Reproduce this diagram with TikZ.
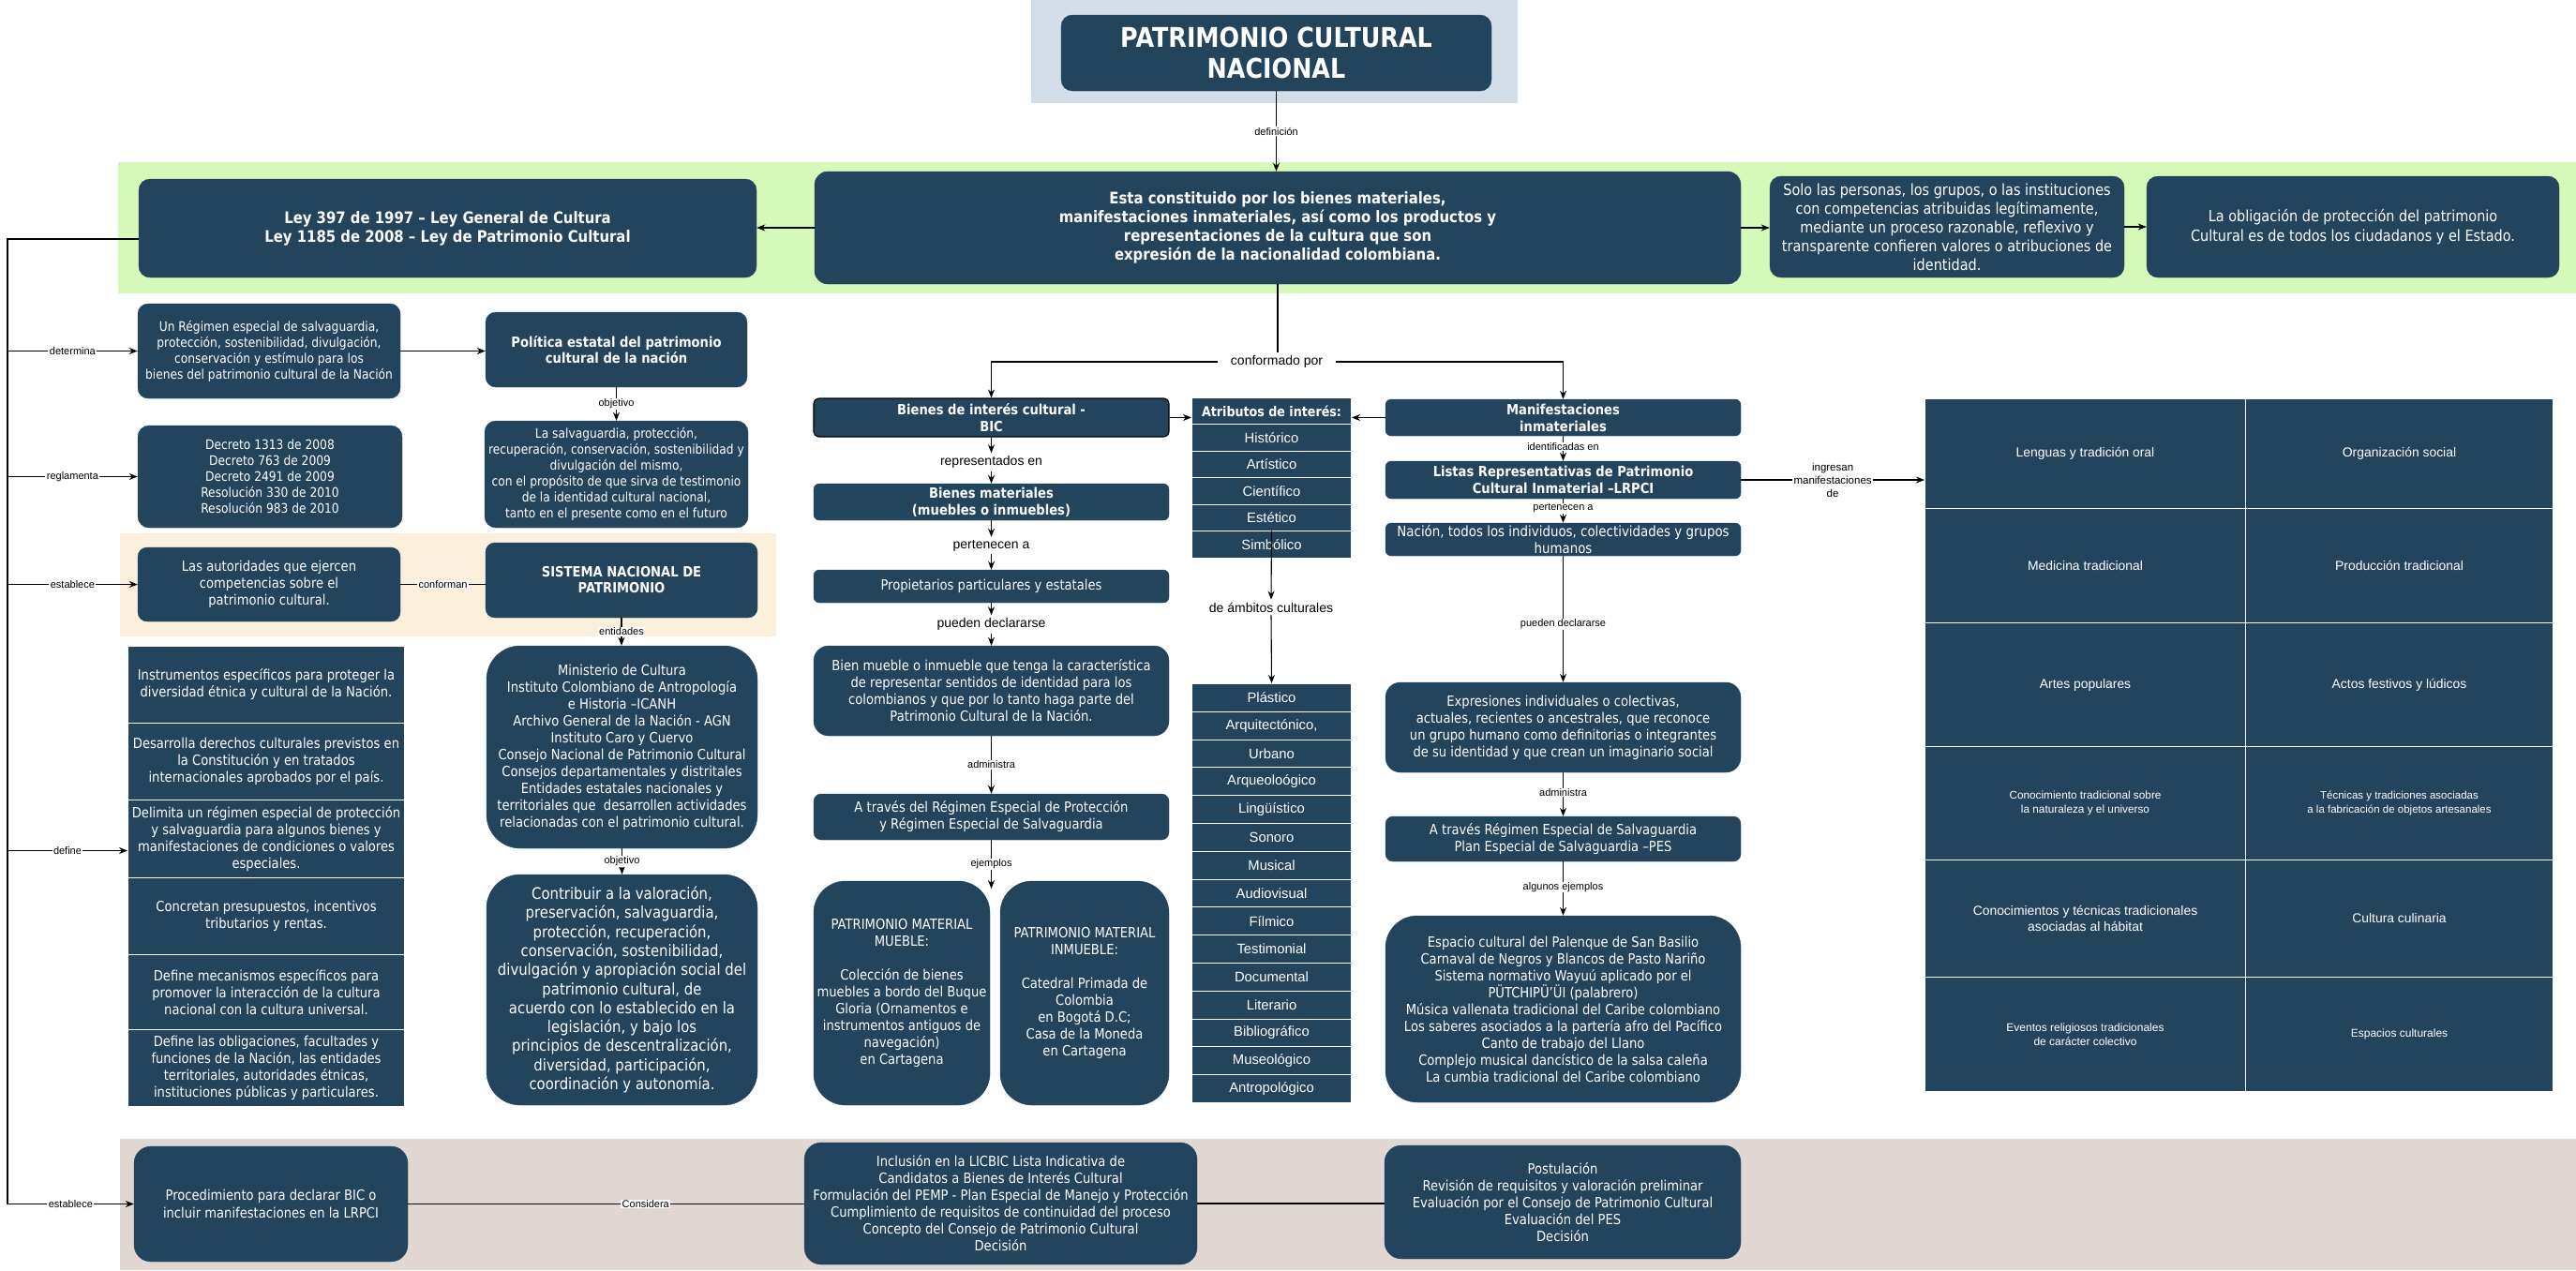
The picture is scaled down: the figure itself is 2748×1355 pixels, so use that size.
\documentclass[tikz,border=0pt]{standalone}
\usepackage{fontspec}
\setmainfont{Liberation Sans}
\newfontfamily\tah[FakeStretch=0.875]{DejaVu Sans}
\usetikzlibrary{arrows.meta,calc}

\definecolor{navy}{HTML}{23445D}
\definecolor{bandblue}{HTML}{D3DDE7}
\definecolor{bandgreen}{HTML}{D5F9B9}
\definecolor{bandbeige}{HTML}{FBF0DB}
\definecolor{bandrose}{HTML}{E0D6D2}

\newcommand{\fs}[2]{\fontsize{#1}{#2}\selectfont}

\begin{document}
\begin{tikzpicture}[x=1pt,y=-1pt,
  nbox/.style={rounded corners=#1, fill=navy, draw=navy, text=white, align=center, inner sep=0pt},
  nbox/.default=10pt,
  cell/.style={fill=navy, draw=white, line width=1pt, text=white, align=center, inner sep=0pt, anchor=north west, font=\fs{14.8}{17}},
  gcell/.style={cell, font=\fs{13.9}{17}},
  lbl/.style={fill=white, inner xsep=1.5pt, inner ysep=0.5pt, font=\fs{11}{13}, text=black},
  mlbl/.style={inner sep=3pt, font=\fs{14}{16}, text=black},
  arr/.style={line width=1.1pt, -{Stealth[length=9pt,width=7pt]}},
  ln/.style={line width=1.1pt}]

\useasboundingbox (0,0) rectangle (2748,1355);

% background bands
\fill[bandblue] (1100,0) rectangle (1619,110);
\fill[bandgreen] (126,173) rectangle (2748,313);
\fill[bandbeige] (128,569) rectangle (828,679);
\fill[bandrose] (128,1215) rectangle (2748,1355);

% ---------- top row ----------
\node[nbox=12pt, minimum width=459pt, minimum height=81pt, font=\tah\bfseries\fs{29}{33}] (title) at (1361.5,56.5) {PATRIMONIO CULTURAL\\NACIONAL};

\node[nbox=12pt, minimum width=659pt, minimum height=105pt, font=\tah\bfseries\fs{17}{20}] (ley) at (477.5,243.5)
  {Ley 397 de 1997 – Ley General de Cultura\\Ley 1185 de 2008 – Ley de Patrimonio Cultural};
\node[nbox=14pt, minimum width=988pt, minimum height=120pt, font=\tah\bfseries\fs{17}{20}] (main) at (1363,243)
  {Esta constituido por los bienes materiales,\\manifestaciones inmateriales, así como los productos y\\representaciones de la cultura que son\\expresión de la nacionalidad colombiana.};
\node[nbox=12pt, minimum width=378pt, minimum height=108pt, font=\tah\fs{16.5}{20}] (solo) at (2077,242)
  {Solo las personas, los grupos, o las instituciones\\con competencias atribuidas legítimamente,\\mediante un proceso razonable, reflexivo y\\transparente confieren valores o atribuciones de\\identidad.};
\node[nbox=12pt, minimum width=440pt, minimum height=108pt, font=\tah\fs{16.5}{21}] (oblig) at (2510,242)
  {La obligación de protección del patrimonio\\Cultural es de todos los ciudadanos y el Estado.};

% ---------- left column ----------
\node[nbox=11pt, minimum width=280pt, minimum height=101pt, font=\tah\fs{14}{17}] (regimen) at (287,374.5)
  {Un Régimen especial de salvaguardia,\\protección, sostenibilidad, divulgación,\\conservación y estímulo para los\\bienes del patrimonio cultural de la Nación};
\node[nbox=11pt, minimum width=279pt, minimum height=80pt, font=\tah\bfseries\fs{15}{17.5}] (politica) at (657.5,373)
  {Política estatal del patrimonio\\cultural de la nación};
\node[nbox=12pt, minimum width=282pt, minimum height=109pt, font=\tah\fs{14}{17}] (decreto) at (288,508.5)
  {Decreto 1313 de 2008\\Decreto 763 de 2009\\Decreto 2491 de 2009\\Resolución 330 de 2010\\Resolución 983 de 2010};
\node[nbox=12pt, minimum width=281pt, minimum height=114pt, font=\tah\fs{14}{17}] (salvag) at (657.5,506)
  {La salvaguardia, protección,\\recuperación, conservación, sostenibilidad y\\divulgación del mismo,\\con el propósito de que sirva de testimonio\\de la identidad cultural nacional,\\tanto en el presente como en el futuro};
\node[nbox=10pt, minimum width=280pt, minimum height=79pt, font=\tah\fs{15}{18}] (autor) at (287,623.5)
  {Las autoridades que ejercen\\competencias sobre el\\patrimonio cultural.};
\node[nbox=10pt, minimum width=290pt, minimum height=80pt, font=\tah\bfseries\fs{15}{17}] (sistema) at (663,619)
  {SISTEMA NACIONAL DE\\PATRIMONIO};
\node[nbox=36pt, minimum width=289pt, minimum height=216pt, font=\tah\fs{15}{18}] (minis) at (663.5,797)
  {Ministerio de Cultura\\Instituto Colombiano de Antropología\\e Historia –ICANH\\Archivo General de la Nación - AGN\\Instituto Caro y Cuervo\\Consejo Nacional de Patrimonio Cultural\\Consejos departamentales y distritales\\Entidades estatales nacionales y\\territoriales que~ desarrollen actividades\\relacionadas con el patrimonio cultural.};
\node[nbox=36pt, minimum width=289pt, minimum height=246pt, font=\tah\fs{17}{20.3}] (contrib) at (663.5,1056)
  {Contribuir a la valoración,\\preservación, salvaguardia,\\protección, recuperación,\\conservación, sostenibilidad,\\divulgación y apropiación social del\\patrimonio cultural, de\\acuerdo con lo establecido en la\\legislación, y bajo los\\principios de descentralización,\\diversidad, participación,\\coordinación y autonomía.};

% stacked list defined by the law
\node[cell, font=\tah\fs{15}{18}, minimum width=295pt, minimum height=82pt] (l1) at (136,689)
  {Instrumentos específicos para proteger la\\diversidad étnica y cultural de la Nación.};
\node[cell, font=\tah\fs{15}{18}, minimum width=295pt, minimum height=82pt] (l2) at (136,771)
  {Desarrolla derechos culturales previstos en\\la Constitución y en tratados\\internacionales aprobados por el país.};
\node[cell, font=\tah\fs{15}{18}, minimum width=295pt, minimum height=83pt] (l3) at (136,853)
  {Delimita un régimen especial de protección\\y salvaguardia para algunos bienes y\\manifestaciones de condiciones o valores\\especiales.};
\node[cell, font=\tah\fs{15}{18}, minimum width=295pt, minimum height=82pt] (l4) at (136,936)
  {Concretan presupuestos, incentivos\\tributarios y rentas.};
\node[cell, font=\tah\fs{15}{18}, minimum width=295pt, minimum height=80pt] (l5) at (136,1018)
  {Define mecanismos específicos para\\promover la interacción de la cultura\\nacional con la cultura universal.};
\node[cell, font=\tah\fs{15}{18}, minimum width=295pt, minimum height=82pt] (l6) at (136,1098)
  {Define las obligaciones, facultades y\\funciones de la Nación, las entidades\\territoriales, autoridades étnicas,\\instituciones públicas y particulares.};

% ---------- bottom band ----------
\node[nbox=18pt, minimum width=292pt, minimum height=123pt, font=\tah\fs{15}{19}] (proc) at (289,1284.5)
  {Procedimiento para declarar BIC o\\incluir manifestaciones en la LRPCI};
\node[nbox=18pt, minimum width=419pt, minimum height=130pt, font=\tah\fs{15}{18}] (incl) at (1067.5,1284)
  {Inclusión en la LICBIC Lista Indicativa de\\Candidatos a Bienes de Interés Cultural\\Formulación del PEMP - Plan Especial de Manejo y Protección\\Cumplimiento de requisitos de continuidad del proceso\\Concepto del Consejo de Patrimonio Cultural\\Decisión};
\node[nbox=18pt, minimum width=380pt, minimum height=121pt, font=\tah\fs{15}{18}] (post) at (1667,1282.5)
  {Postulación\\Revisión de requisitos y valoración preliminar\\Evaluación por el Consejo de Patrimonio Cultural\\Evaluación del PES\\Decisión};

% ---------- BIC column ----------
\node[nbox=6pt, draw=black, line width=1.2pt, minimum width=379pt, minimum height=41pt, font=\tah\bfseries\fs{15}{18}] (bic) at (1057.5,445.5)
  {Bienes de interés cultural -\\BIC};
\node[nbox=6pt, minimum width=379pt, minimum height=39pt, font=\tah\bfseries\fs{15}{18}] (bmat) at (1057.5,535.5)
  {Bienes materiales\\(muebles o inmuebles)};
\node[nbox=6pt, minimum width=379pt, minimum height=35pt, font=\tah\fs{15}{18}] (prop) at (1057.5,625.5)
  {Propietarios particulares y estatales};
\node[nbox=16pt, minimum width=379pt, minimum height=96pt, font=\tah\fs{15}{18}] (bien) at (1057.5,737)
  {Bien mueble o inmueble que tenga la característica\\de representar sentidos de identidad para los\\colombianos y que por lo tanto haga parte del\\Patrimonio Cultural de la Nación.};
\node[nbox=8pt, minimum width=379pt, minimum height=49pt, font=\tah\fs{15}{18}] (regprot) at (1057.5,871.5)
  {A través del Régimen Especial de Protección\\y Régimen Especial de Salvaguardia};
\node[nbox=34pt, minimum width=188pt, minimum height=239pt, font=\tah\fs{15}{18}] (mueble) at (962,1059.5)
  {PATRIMONIO MATERIAL\\MUEBLE:\\[18pt]Colección de bienes\\muebles a bordo del Buque\\Gloria (Ornamentos e\\instrumentos antiguos de\\navegación)\\en Cartagena};
\node[nbox=34pt, minimum width=180pt, minimum height=239pt, font=\tah\fs{15}{18}] (inmueble) at (1157,1059.5)
  {PATRIMONIO MATERIAL\\INMUEBLE:\\[18pt]Catedral Primada de\\Colombia\\en Bogotá D.C;\\Casa de la Moneda\\en Cartagena};

% attributes and cultural fields
\node[cell, font=\tah\bfseries\fs{14.5}{17}, minimum width=170pt, minimum height=28pt] (atr) at (1271,424) {Atributos de interés:};
\foreach \t [count=\i] in {Histórico,Artístico,Científico,Estético,Simbólico}
  \node[cell, minimum width=170pt, minimum height=28.6pt] (atr\i) at (1271,{452+(\i-1)*28.6}) {\t};
\foreach \t [count=\i] in {Plástico,{Arquitectónico,},Urbano,Arqueoloógico,Lingüístico,Sonoro,Musical,Audiovisual,Fílmico,Testimonial,Documental,Literario,Bibliográfico,Museológico,Antropológico}
  \node[cell, minimum width=170pt, minimum height=29.8pt] (amb\i) at (1271,{729+(\i-1)*29.8}) {\t};

% ---------- intangible column ----------
\node[nbox=6pt, minimum width=379pt, minimum height=39pt, font=\tah\bfseries\fs{15}{18}] (manif) at (1667.5,445.5)
  {Manifestaciones\\inmateriales};
\node[nbox=6pt, minimum width=379pt, minimum height=40pt, font=\tah\bfseries\fs{15}{18}] (listas) at (1667.5,512)
  {Listas Representativas de Patrimonio\\Cultural Inmaterial –LRPCI};
\node[nbox=6pt, minimum width=379pt, minimum height=35pt, font=\tah\fs{15.3}{18}] (nacion) at (1667.5,575.5)
  {Nación, todos los individuos, colectividades y grupos\\humanos};
\node[nbox=16pt, minimum width=379pt, minimum height=96pt, font=\tah\fs{15}{18}] (expr) at (1667.5,776)
  {Expresiones individuales o colectivas,\\actuales, recientes o ancestrales, que reconoce\\un grupo humano como definitorias o integrantes\\de su identidad y que crean un imaginario social};
\node[nbox=8pt, minimum width=379pt, minimum height=48pt, font=\tah\fs{15}{18}] (pes) at (1667.5,895)
  {A través Régimen Especial de Salvaguardia\\Plan Especial de Salvaguardia –PES};
\node[nbox=34pt, minimum width=379pt, minimum height=199pt, font=\tah\fs{15}{18}] (ejem) at (1667.5,1076.5)
  {Espacio cultural del Palenque de San Basilio\\Carnaval de Negros y Blancos de Pasto Nariño\\Sistema normativo Wayuú aplicado por el\\PÜTCHIPÜ’ÜI (palabrero)\\Música vallenata tradicional del Caribe colombiano\\Los saberes asociados a la partería afro del Pacífico\\Canto de trabajo del Llano\\Complejo musical dancístico de la salsa caleña\\La cumbia tradicional del Caribe colombiano};

% ---------- grid of intangible fields ----------
\node[gcell, minimum width=342pt, minimum height=117pt] (g11) at (2053,425) {Lenguas y tradición oral};
\node[gcell, minimum width=328pt, minimum height=117pt] (g12) at (2395,425) {Organización social};
\node[gcell, minimum width=342pt, minimum height=122pt] (g21) at (2053,542) {Medicina tradicional};
\node[gcell, minimum width=328pt, minimum height=122pt] (g22) at (2395,542) {Producción tradicional};
\node[gcell, minimum width=342pt, minimum height=132pt] (g31) at (2053,664) {Artes populares};
\node[gcell, minimum width=328pt, minimum height=132pt] (g32) at (2395,664) {Actos festivos y lúdicos};
\node[gcell, font=\fs{11.8}{15}, minimum width=342pt, minimum height=121pt] (g41) at (2053,796) {Conocimiento tradicional sobre\\la naturaleza y el universo};
\node[gcell, font=\fs{11.5}{15}, minimum width=328pt, minimum height=121pt] (g42) at (2395,796) {Técnicas y tradiciones asociadas\\a la fabricación de objetos artesanales};
\node[gcell, minimum width=342pt, minimum height=125pt] (g51) at (2053,917) {Conocimientos y técnicas tradicionales\\asociadas al hábitat};
\node[gcell, minimum width=328pt, minimum height=125pt] (g52) at (2395,917) {Cultura culinaria};
\node[gcell, font=\fs{12}{15}, minimum width=342pt, minimum height=122pt] (g61) at (2053,1042) {Eventos religiosos tradicionales\\de carácter colectivo};
\node[gcell, font=\fs{12}{15}, minimum width=328pt, minimum height=122pt] (g62) at (2395,1042) {Espacios culturales};

% ---------- connectors ----------
\draw[arr] (title.south) -- node[lbl]{definición} (title.south |- main.north);
\draw[arr] (main.west) -- (main.west -| ley.east);
\draw[arr] (main.east) -- (main.east -| solo.west);
\draw[arr] (solo.east) -- (solo.east -| oblig.west);

% trunk from the law box
\coordinate (tk) at (8,255);
\coordinate (l3in) at ($(l3.west)+(0,12.5)$);
\draw[ln] ([yshift=-11.5pt]ley.west) -- (tk) -- (tk |- proc.west);
\draw[arr] (tk |- regimen.west) -- node[lbl]{determina} (regimen.west);
\draw[arr] (tk |- decreto.west) -- node[lbl]{reglamenta} (decreto.west);
\draw[arr] (tk |- autor.west) -- node[lbl]{establece} (autor.west);
\draw[arr] (tk |- l3in) -- node[lbl]{define} (l3in);
\draw[arr] (tk |- proc.west) -- node[lbl]{establece} (proc.west);

\draw[arr] (regimen.east) -- (regimen.east -| politica.west);
\draw[arr] (politica.south) -- node[lbl]{objetivo} (salvag.north);
\draw[ln] (autor.east) -- node[lbl]{conforman} (autor.east -| sistema.west);
\draw[arr] (sistema.south) -- node[lbl]{entidades} (sistema.south |- minis.north);
\draw[arr] (minis.south) -- node[lbl]{objetivo} (contrib.north);

% split into tangible / intangible
\node[mlbl, fill=white, inner xsep=14pt] (cfp) at (1362,386) {conformado por};
\draw[ln] (main.south) -- (main.south |- cfp.north);
\draw[arr] (cfp.west) -| (bic.north);
\draw[arr] (cfp.east) -| (manif.north);

% tangible chain
\node[mlbl] (rep) at (1057.5,493) {representados en};
\draw[arr] (bic.south) -- (rep.north);
\draw[arr] (rep.south) -- (bmat.north);
\node[mlbl] (pert) at (1057.5,582) {pertenecen a};
\draw[arr] (bmat.south) -- (pert.north);
\draw[arr] (pert.south) -- (prop.north);
\node[mlbl] (pdec) at (1057.5,666) {pueden declararse};
\draw[arr] (prop.south) -- (pdec.north);
\draw[arr] (pdec.south) -- (bien.north);
\draw[arr] (bien.south) -- node[lbl]{administra} (regprot.north);
\coordinate (ejend) at (1057.5,948);
\draw[arr] (regprot.south) -- node[lbl]{ejemplos} (ejend);

\draw[arr] (bic.east) -- (bic.east -| atr.west);
\draw[arr] (manif.west) -- (manif.west -| atr.east);
\node[mlbl] (ambl) at (1356,648) {de ámbitos culturales};
\draw[arr] (atr5.north) -- (ambl.north);
\draw[arr] (ambl.south) -- (amb1.north);

% intangible chain
\draw[arr] (manif.south) -- node[lbl, pos=0.42]{identificadas en} (listas.north);
\draw[arr] (listas.south) -- node[lbl, pos=0.4]{pertenecen a} (nacion.north);
\draw[arr] (nacion.south) -- node[lbl, pos=0.54]{pueden declararse} (expr.north);
\draw[arr] (expr.south) -- node[lbl, pos=0.45]{administra} (pes.north);
\draw[arr] (pes.south) -- node[lbl, pos=0.48]{algunos ejemplos} (ejem.north);
\draw[arr] (listas.east) -- node[lbl, align=center, font=\fs{11.5}{14}]{ingresan\\manifestaciones\\de} (listas.east -| g11.west);

% procedure
\draw[ln] (proc.east) -- node[lbl, pos=0.6]{Considera} (proc.east -| incl.west);
\draw[ln] (incl.east) -- (incl.east -| post.west);

\end{tikzpicture}
\end{document}
